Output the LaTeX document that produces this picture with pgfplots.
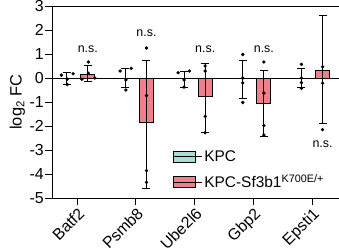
\documentclass[border=0pt]{standalone}
\usepackage{pgfplots}
\pgfplotsset{compat=1.18}
\usepackage{pgfplotstable}
\usepackage{fontspec}
\setmainfont{Liberation Sans}
\definecolor{kpc}{HTML}{A8DDD6}
\definecolor{sf}{HTML}{F07F8C}

% bar means and asymmetric error extents
\pgfplotstableread{
x      y      ep    em
-0.18  0.00   0.22  0.29
0.82   0.00   0.40  0.38
1.82   0.00   0.29  0.38
2.82   0.00   0.72  0.84
3.82   0.00   0.40  0.38
}\kpcbars
\pgfplotstableread{
x      y      ep    em
0.18   0.15   0.36  0.30
1.18  -1.87   2.59  2.73
2.18  -0.77   1.37  1.49
3.18  -1.05   1.35  1.40
4.18   0.30   2.30  2.20
}\sfbars
\pgfplotstableread{
x      y
-0.27  0.12
-0.17 -0.05
-0.17 -0.27
-0.07  0.18
0.73   0.29
0.83  -0.08
0.83  -0.50
0.92   0.40
1.72   0.22
1.82  -0.08
1.82  -0.38
1.91   0.29
2.82   0.98
2.82   0.00
2.82  -0.20
2.82  -1.02
3.82   0.57
3.82   0.00
3.82  -0.19
3.82  -0.43
}\kpcdots
\pgfplotstableread{
x      y
0.19   0.67
0.08  -0.05
0.19   0.20
0.30   0.00
1.18   1.25
1.18  -0.73
1.18  -3.86
1.18  -4.35
2.18   0.50
2.18   0.29
2.18  -1.60
2.18  -2.28
3.18   0.67
3.18  -0.63
3.18  -1.98
3.18  -2.38
4.18   0.47
4.18  -0.22
4.18  -2.15
}\sfdots

\begin{document}
\begin{tikzpicture}
\begin{axis}[
  at={(0,0)}, anchor=south west,
  width=287bp, height=192bp, scale only axis,
  xmin=-0.43, xmax=4.46, ymin=-5, ymax=3,
  axis x line=bottom, axis y line=left,
  axis line style={-, line width=1bp},
  xtick={0,1,2,3,4},
  xticklabels={Batf2,Psmb8,Ube2l6,Gbp2,Epsti1},
  ytick={-5,-4,-3,-2,-1,0,1,2,3},
  tick align=outside, major tick length=7bp,
  tick style={black, line width=1bp},
  /pgf/number format/assume math mode=true,
  yticklabel style={font=\fontsize{16}{16}\selectfont, inner sep=1bp},
  xticklabel style={font=\fontsize{16}{16}\selectfont, rotate=45, anchor=north east, inner sep=1bp},
  ylabel={log\textsubscript{2} FC},
  ylabel style={font=\fontsize{16.5}{16.5}\selectfont},
  legend style={at={(0.42,0.26)}, anchor=north west, draw=none, fill=none,
    font=\fontsize{15.5}{15.5}\selectfont, row sep=8bp, inner sep=0bp},
  legend cell align=left,
  clip=false,
]
\draw[line width=1bp] (rel axis cs:0,1) -- (rel axis cs:1,1);
\draw[line width=1bp] (axis cs:-0.43,0) -- (axis cs:4.46,0);

\addlegendimage{legend image code/.code={\draw[fill=kpc,draw=black,line width=0.8bp] (0bp,-5.5bp) rectangle (22bp,5.5bp); \path (0bp,0bp) -- (29bp,0bp);}}
\addlegendentry{KPC}
\addlegendimage{legend image code/.code={\draw[fill=sf,draw=black,line width=0.8bp] (0bp,-5.5bp) rectangle (22bp,5.5bp); \path (0bp,0bp) -- (29bp,0bp);}}
\addlegendentry{KPC-Sf3b1\textsuperscript{K700E/+}}

\addplot[forget plot, ybar, bar width=14bp, bar shift=0pt, fill=kpc, draw=black, line width=0.8bp,
  error bars/.cd, y dir=both, y explicit,
  error mark options={rotate=90, mark size=4bp, black, line width=1bp},
  error bar style={line width=1bp, black}]
  table[x=x, y=y, y error plus=ep, y error minus=em] {\kpcbars};
\addplot[forget plot, ybar, bar width=14bp, bar shift=0pt, fill=sf, draw=black, line width=0.8bp,
  error bars/.cd, y dir=both, y explicit,
  error mark options={rotate=90, mark size=4bp, black, line width=1bp},
  error bar style={line width=1bp, black}]
  table[x=x, y=y, y error plus=ep, y error minus=em] {\sfbars};
\addplot[forget plot, only marks, mark=*, mark size=1.5bp, black] table[x=x,y=y] {\kpcdots};
\addplot[forget plot, only marks, mark=*, mark size=1.5bp, black] table[x=x,y=y] {\sfdots};

\node[font=\fontsize{12.5}{12.5}\selectfont] at (axis cs:0.18,1.2) {n.s.};
\node[font=\fontsize{12.5}{12.5}\selectfont] at (axis cs:1.18,1.85) {n.s.};
\node[font=\fontsize{12.5}{12.5}\selectfont] at (axis cs:2.18,1.2) {n.s.};
\node[font=\fontsize{12.5}{12.5}\selectfont] at (axis cs:3.18,1.2) {n.s.};
\node[font=\fontsize{12.5}{12.5}\selectfont] at (axis cs:4.18,-2.77) {n.s.};
\end{axis}
\pgfresetboundingbox
\useasboundingbox (-52bp,-54bp) rectangle (287bp,198bp);
\end{tikzpicture}
\end{document}
